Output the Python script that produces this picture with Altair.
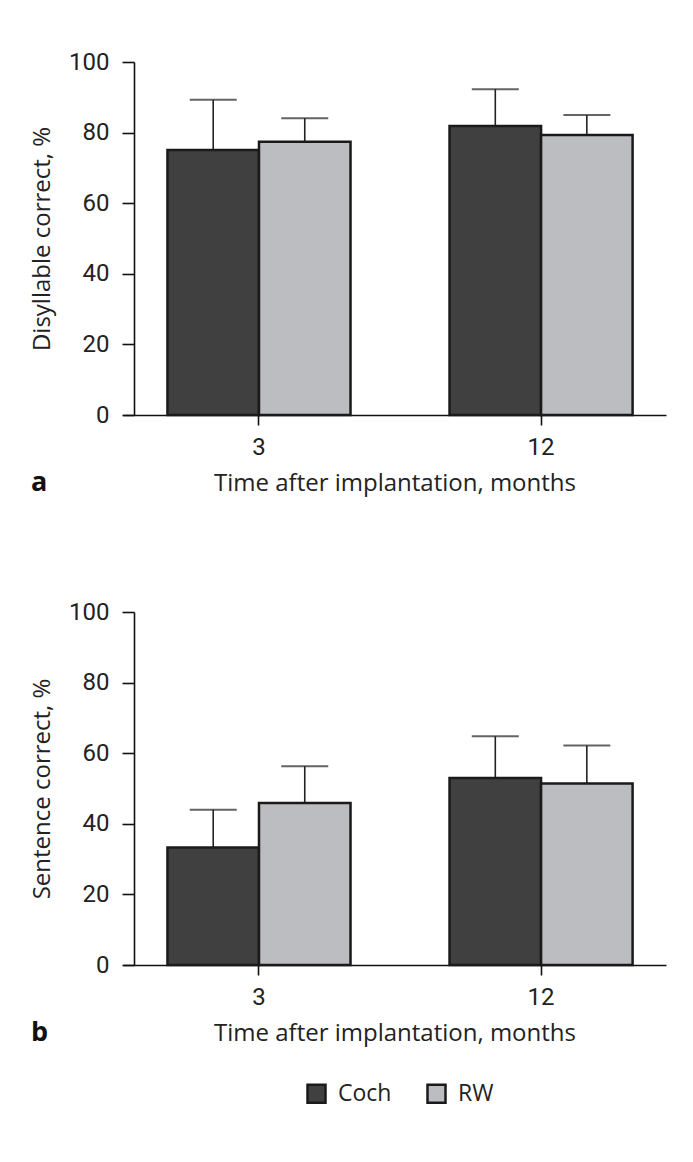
import altair as alt
import pandas as pd

# ---- data ----
times = ["3", "12"]
groups = ["Coch", "RW"]
# order: (3, Coch), (3, RW), (12, Coch), (12, RW)
disyllable_mean = [75.1, 77.4, 81.9, 79.3]
disyllable_sd = [14.2, 6.7, 10.4, 5.7]
sentence_mean = [33.3, 45.9, 53.0, 51.4]
sentence_sd = [10.7, 10.4, 11.8, 10.8]
y_ticks = [0, 20, 40, 60, 80, 100]
panel_labels = ["a", "b"]

colors = ["#404040", "#bcbdc0"]

TICK_FONT = "Roboto, sans-serif"
TITLE_FONT = "Open Sans"

W, H = 543, 353


def make_df(means, sds):
    rows = []
    i = 0
    for t in times:
        for g in groups:
            rows.append({"time": t, "group": g, "mean": means[i],
                         "upper": means[i] + sds[i]})
            i += 1
    return pd.DataFrame(rows)


def panel(means, sds, ytitle, label):
    df = make_df(means, sds)
    x = alt.X("time:N", sort=times,
              scale=alt.Scale(paddingInner=0.351, paddingOuter=0.138, align=0.571),
              axis=alt.Axis(title="Time after implantation, months", labelAngle=0,
                            tickSize=10, labelPadding=10, titlePadding=12))
    xo = alt.XOffset("group:N", sort=groups,
                     scale=alt.Scale(paddingInner=0, paddingOuter=0))
    y = alt.Y("mean:Q", scale=alt.Scale(domain=[0, 100], nice=False),
              axis=alt.Axis(title=ytitle, values=y_ticks, offset=-11, tickSize=12,
                            labelPadding=13, titlePadding=14))
    color = alt.Color("group:N", sort=groups,
                      scale=alt.Scale(domain=groups, range=colors),
                      legend=alt.Legend(title=None, orient="none", direction="horizontal",
                                        legendX=182, legendY=1020,
                                        symbolType="square", symbolSize=324,
                                        symbolStrokeColor="#1a1a1a", symbolStrokeWidth=2.5,
                                        symbolOpacity=1,
                                        labelFont=TITLE_FONT, labelFontSize=23,
                                        labelColor="#222", labelOffset=10,
                                        columnPadding=30, padding=0))
    base = alt.Chart(df)
    err = base.mark_rule(color="#222", strokeWidth=1.6).encode(
        x=x, xOffset=xo, y=alt.Y("mean:Q"), y2="upper:Q")
    cap = base.mark_tick(color="#222", thickness=2, size=47).encode(
        x=x, xOffset=xo, y=alt.Y("upper:Q"))
    bars = base.mark_bar(stroke="#1a1a1a", strokeWidth=2.5).encode(
        x=x, xOffset=xo, y=y, color=color)
    lab = alt.Chart(pd.DataFrame({"t": [label]})).mark_text(
        fontWeight="bold", fontSize=27, font=TITLE_FONT, align="left",
        baseline="middle", color="#111").encode(
        x=alt.value(-92), y=alt.value(421), text="t:N")
    return alt.layer(err, cap, bars, lab).properties(width=W, height=H)


pa = panel(disyllable_mean, disyllable_sd, "Disyllable correct, %", panel_labels[0])
pb = panel(sentence_mean, sentence_sd, "Sentence correct, %", panel_labels[1])

chart = alt.vconcat(pa, pb, spacing=104).resolve_scale(color="shared").configure(
    padding={"top": 42, "left": 22, "right": 10, "bottom": 10},
    background="white"
).configure_view(stroke=None).configure_axis(
    grid=False, domainColor="#111", domainWidth=1.6, tickColor="#111", tickWidth=1.6,
    labelFont=TICK_FONT, labelFontSize=24, labelColor="#222",
    titleFont=TITLE_FONT, titleFontSize=24, titleFontWeight="normal", titleColor="#222"
)

chart.save("out.html", embed_options={"renderer": "svg", "actions": False})
